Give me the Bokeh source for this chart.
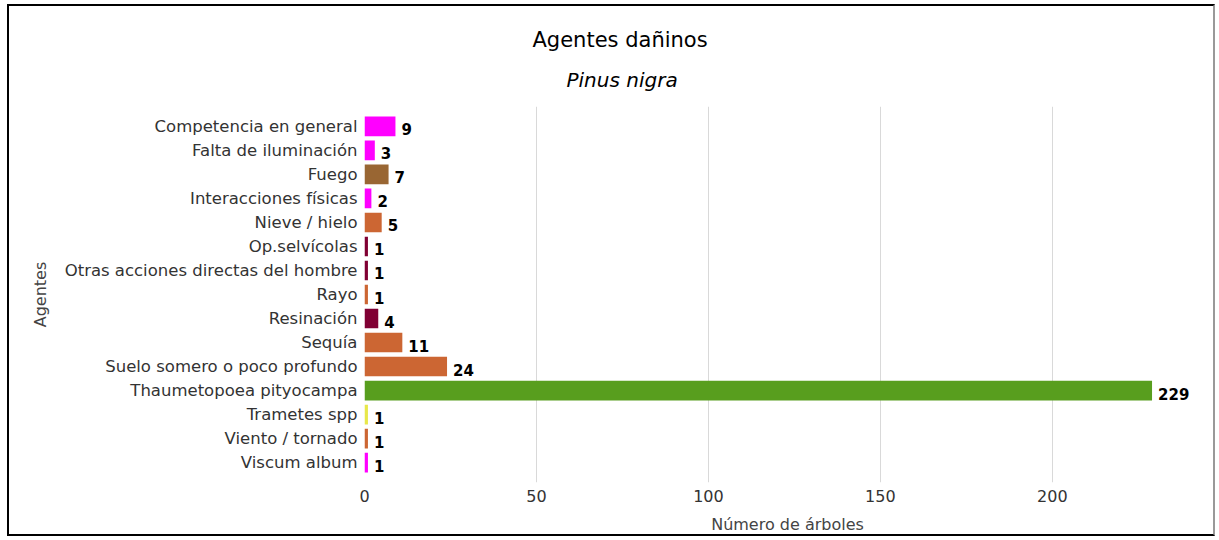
from bokeh.plotting import figure
from bokeh.models import FactorRange, Range1d, Title, ColumnDataSource
from bokeh.core.properties import value
from bokeh.embed import file_html
from bokeh.resources import INLINE

categories = [
    "Competencia en general",
    "Falta de iluminación",
    "Fuego",
    "Interacciones físicas",
    "Nieve / hielo",
    "Op.selvícolas",
    "Otras acciones directas del hombre",
    "Rayo",
    "Resinación",
    "Sequía",
    "Suelo somero o poco profundo",
    "Thaumetopoea pityocampa",
    "Trametes spp",
    "Viento / tornado",
    "Viscum album",
]
values = [9, 3, 7, 2, 5, 1, 1, 1, 4, 11, 24, 229, 1, 1, 1]
colors = [
    "#ff00ff", "#ff00ff", "#996633", "#ff00ff", "#cc6633",
    "#800033", "#800033", "#cc6633", "#800033", "#cc6633",
    "#cc6633", "#589e1e", "#e8e84a", "#cc6633", "#ff00ff",
]
x_ticks = [0, 50, 100, 150, 200]

FONT = "DejaVu Sans"

src = ColumnDataSource(dict(
    cat=categories, val=values, col=colors, lab=[str(v) for v in values]
))

p = figure(
    width=1208, height=532,
    y_range=FactorRange(factors=categories[::-1], range_padding=0.044),
    x_range=Range1d(0, 246),
    output_backend="svg", toolbar_location=None,
    min_border_left=355, min_border_right=7,
    min_border_top=100, min_border_bottom=56,
    styles={
        "margin-left": "7px",
        "margin-top": "4px",
        "border-left": "2px solid #000",
        "border-top": "2px solid #000",
        "border-right": "2px solid #999",
        "border-bottom": "2px solid #000",
    },
)
p.title = None
p.outline_line_color = None

p.hbar(y="cat", right="val", left=0, height=0.82, color="col",
       line_color=None, source=src)

p.text(x="val", y="cat", text="lab", source=src, x_offset=6, y_offset=3,
       text_baseline="middle", text_align="left",
       text_font=value(FONT), text_font_style="bold",
       text_font_size="15px", text_color="#000000")

# axes
p.xaxis.ticker = x_ticks
p.xaxis.axis_line_color = None
p.xaxis.major_tick_line_color = None
p.xaxis.major_tick_out = 0
p.xaxis.major_tick_in = 0
p.xaxis.minor_tick_line_color = None
p.xaxis.minor_tick_out = 0
p.xaxis.major_label_standoff = 7
p.xaxis.major_label_text_font = FONT
p.xaxis.major_label_text_font_size = "16px"
p.xaxis.major_label_text_color = "#333333"
p.xaxis.axis_label = "Número de árboles"
p.xaxis.axis_label_text_font = FONT
p.xaxis.axis_label_text_font_style = "normal"
p.xaxis.axis_label_text_font_size = "16px"
p.xaxis.axis_label_text_color = "#444444"
p.xaxis.axis_label_standoff = 10

p.yaxis.axis_line_color = None
p.yaxis.major_tick_line_color = None
p.yaxis.major_tick_out = 0
p.yaxis.major_tick_in = 0
p.yaxis.minor_tick_line_color = None
p.yaxis.minor_tick_out = 0
p.yaxis.major_label_standoff = 7
p.yaxis.major_label_text_font = FONT
p.yaxis.major_label_text_font_size = "16.5px"
p.yaxis.major_label_text_color = "#333333"
p.yaxis.axis_label = "Agentes"
p.yaxis.axis_label_text_font = FONT
p.yaxis.axis_label_text_font_style = "normal"
p.yaxis.axis_label_text_font_size = "16px"
p.yaxis.axis_label_text_color = "#444444"
p.yaxis.axis_label_standoff = 12

p.xgrid.ticker = x_ticks
p.xgrid.grid_line_color = "#d9d9d9"
p.ygrid.grid_line_color = None

# titles (nearest to the frame first)
p.add_layout(Title(text="Pinus nigra", align="left", offset=202,
                   standoff=29, text_font=FONT, text_font_style="italic",
                   text_font_size="20px", text_color="#000000"), "above")
p.add_layout(Title(text="Agentes dañinos", align="left", offset=168,
                   standoff=0, text_font=FONT, text_font_style="normal",
                   text_font_size="21px", text_color="#000000"), "above")

open("out.html", "w").write(file_html(p, INLINE))
